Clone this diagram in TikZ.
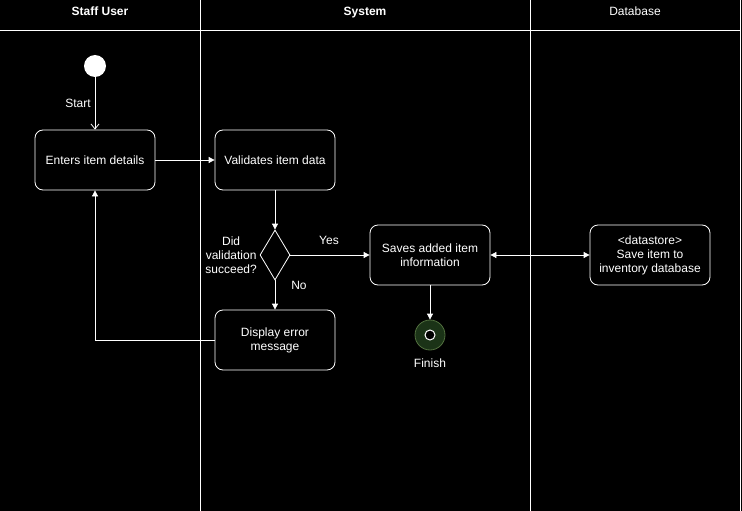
\documentclass[tikz,border=0pt]{standalone}
\usepackage{fontspec}
\setmainfont{Liberation Sans}
\usetikzlibrary{arrows.meta,shapes.geometric}
\definecolor{fingreen}{HTML}{1B3317}
\definecolor{finborder}{HTML}{52703F}
\begin{document}
\begin{tikzpicture}[x=1pt,y=-1pt,
  every node/.style={font=\fontsize{12}{14}\selectfont, text=white},
  lane/.style={draw=white, line width=0.8pt},
  act/.style={draw=white, line width=0.8pt, rounded corners=8pt, fill=black, minimum width=120pt, minimum height=60pt, align=center, inner sep=2pt},
  flow/.style={draw=white, line width=0.8pt, -{Triangle[width=6pt,length=6pt]}},
  lbl/.style={align=center, inner sep=1pt},
  hdr/.style={text height=9pt, text depth=3pt}
]
\fill[black] (0,0) rectangle (742,511);
\useasboundingbox (0,0) rectangle (742,511);
% lanes
\draw[lane] (200,0) -- (200,511);
\draw[lane] (530,0) -- (530,511);
\draw[lane] (740,0) -- (740,511);
\draw[lane] (0,30) -- (740,30);
\node[hdr, font=\fontsize{12}{14}\selectfont\bfseries] (h1) at (100,13) {Staff User};
\node[hdr, font=\fontsize{12}{14}\selectfont\bfseries] (h2) at (365,13) {System};
\node[hdr] (h3) at (635,13) {Database};
% nodes
\node[circle, fill=white, minimum size=22pt, inner sep=0pt] (start) at (95,66) {};
\node[act] (enter) at (95,160) {Enters item details};
\node[act] (valid) at (275,160) {Validates item data};
\node[diamond, draw=white, line width=0.8pt, fill=black, minimum width=30pt, minimum height=50pt, inner sep=0pt, aspect=0.6] (dec) at (275,255) {};
\node[lbl, anchor=east] (declbl) at (258,255) {Did\\validation\\succeed?};
\node[act] (save) at (430,255) {Saves added item\\information};
\node[act] (store) at (650,255) {<datastore>\\Save item to\\inventory database};
\node[act] (err) at (275,340) {Display error\\message};
\node[circle, draw=finborder, fill=fingreen, line width=0.8pt, minimum size=30pt, inner sep=0pt] (fin) at (430,335) {};
\node[circle, draw=white, fill=black, line width=1pt, minimum size=10pt, inner sep=0pt] (finin) at (430,335) {};
\node (finlbl) at (430,363) {Finish};
% edges
\draw[draw=white, line width=0.8pt, -{Straight Barb[width=8pt,length=5pt]}] (start) -- (enter);
\node[lbl] (startlbl) at (78,103) {Start};
\draw[flow] (enter) -- (valid);
\draw[flow] (valid) -- (dec);
\draw[flow] (dec) -- (save);
\node[lbl] (yes) at (329,240) {Yes};
\draw[flow] (dec) -- (err);
\node[lbl] (no) at (299,285) {No};
\draw[draw=white, line width=0.8pt, {Triangle[width=6pt,length=6pt]}-{Triangle[width=6pt,length=6pt]}] (save) -- (store);
\draw[flow] (save) -- (fin);
\draw[flow] (err.west) -| (enter.south);
\end{tikzpicture}
\end{document}
